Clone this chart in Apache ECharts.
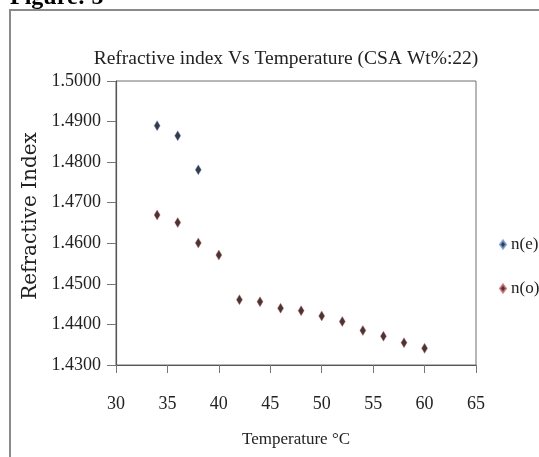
<!DOCTYPE html>
<html>
<head>
<meta charset="utf-8">
<script src="https://cdn.jsdelivr.net/npm/echarts@6/dist/echarts.min.js"></script>
<style>
  html, body { margin: 0; padding: 0; background: #fff; }
  #main { width: 539px; height: 457px; }
</style>
</head>
<body>
<div id="main"></div>
<script>
// temperatures (°C)
var tempE = [34, 36, 38];
var tempO = [34, 36, 38, 40, 42, 44, 46, 48, 50, 52, 54, 56, 58, 60];
// refractive index values
var nE = [1.4890, 1.4865, 1.4781];
var nO = [1.4670, 1.4651, 1.4601, 1.4571, 1.4461, 1.4456, 1.4440, 1.4434, 1.4421, 1.4407, 1.4385, 1.4371, 1.4355, 1.4341];
var seriesNames = ['n(e)', 'n(o)'];

function pairs(xs, ys) {
    var out = [];
    for (var i = 0; i < xs.length; i++) out.push([xs[i], ys[i]]);
    return out;
}

var serif = 'Liberation Serif';
var chart = echarts.init(document.getElementById('main'), null, { renderer: 'canvas' });

var option = {
    animation: false,
    backgroundColor: '#fff',
    title: {
        text: 'Refractive index Vs Temperature (CSA Wt%:22)',
        left: 281,
        textAlign: 'center',
        top: 44,
        textStyle: { fontFamily: serif, fontSize: 19.5, fontWeight: 'normal', color: '#222' }
    },
    graphic: [
        {
            type: 'text', left: 10, top: -14,
            style: { text: 'Figure: 5', font: 'bold 24px "Liberation Serif"', fill: '#000' }
        },
        {
            type: 'polyline',
            shape: { points: [[10, 470], [10, 10], [545, 10]] },
            style: { stroke: '#8a8a8a', lineWidth: 2, fill: null }
        }
    ],
    legend: {
        orient: 'vertical',
        left: 494,
        top: 231,
        itemGap: 27,
        itemWidth: 6,
        itemHeight: 8,
        icon: 'diamond',
        textStyle: { fontFamily: serif, fontSize: 17, color: '#222' },
        data: seriesNames
    },
    grid: {
        left: 116, right: 63, top: 81, bottom: 92,
        show: true, borderColor: '#6e6e6e', borderWidth: 1
    },
    xAxis: {
        type: 'value',
        min: 30, max: 65, interval: 5,
        name: 'Temperature \u00B0C',
        nameLocation: 'middle',
        nameGap: 66,
        nameTextStyle: { fontFamily: serif, fontSize: 17, color: '#222' },
        axisLine: { lineStyle: { color: '#555', width: 1.2 } },
        axisTick: { inside: false, length: 8, lineStyle: { color: '#777' } },
        axisLabel: { margin: 30, fontFamily: serif, fontSize: 18, color: '#222' },
        splitLine: { show: false }
    },
    yAxis: {
        type: 'value',
        min: 1.43, max: 1.5, interval: 0.01,
        name: 'Refractive Index',
        nameLocation: 'middle',
        nameGap: 74,
        nameTextStyle: { fontFamily: 'DejaVu Serif', fontSize: 20, color: '#222', padding: [0, 0, 0, 14] },
        axisLine: { show: true, lineStyle: { color: '#555', width: 1.2 } },
        axisTick: { show: true, inside: false, length: 9, lineStyle: { color: '#777' } },
        axisLabel: {
            margin: 15, fontFamily: serif, fontSize: 18, color: '#222',
            formatter: function (v) { return v.toFixed(4); }
        },
        splitLine: { show: false }
    },
    series: [
        {
            name: seriesNames[0],
            type: 'scatter',
            symbol: 'diamond',
            symbolSize: [6, 10],
            itemStyle: { color: '#050a1a', borderColor: '#6f93cf', borderWidth: 0.5 },
            data: pairs(tempE, nE)
        },
        {
            name: seriesNames[1],
            type: 'scatter',
            symbol: 'diamond',
            symbolSize: [6, 10],
            itemStyle: { color: '#1a0303', borderColor: '#c86a6a', borderWidth: 0.5 },
            data: pairs(tempO, nO)
        }
    ]
};

chart.setOption(option);
</script>
</body>
</html>
